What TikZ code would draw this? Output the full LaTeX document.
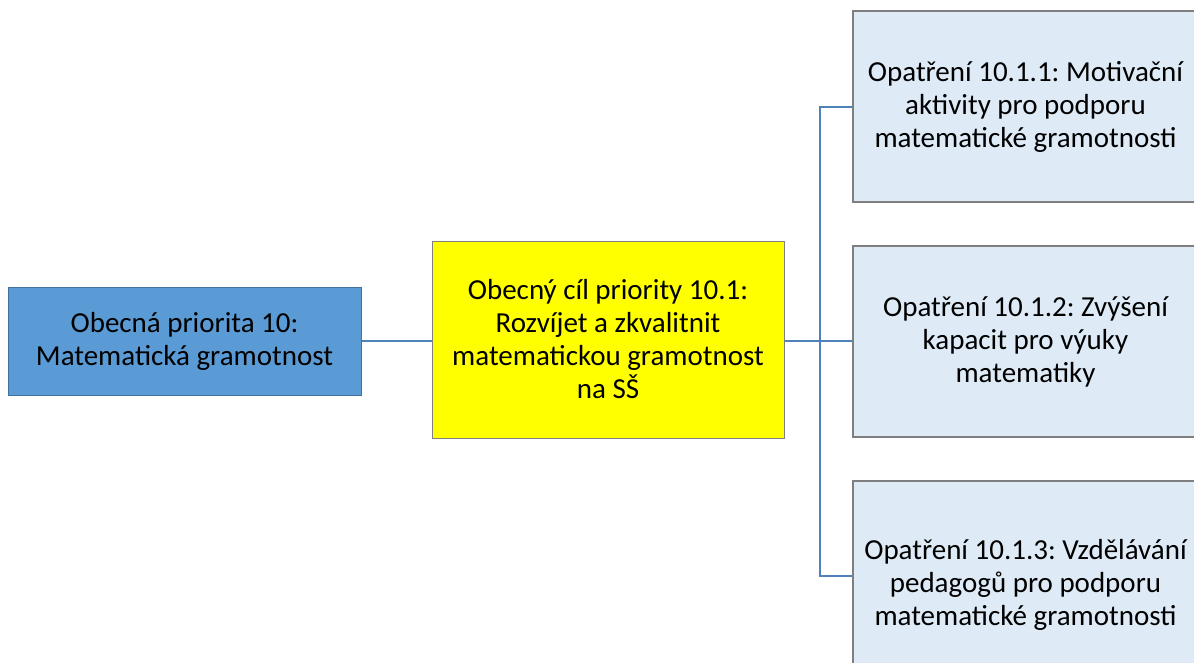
\documentclass[tikz,border=0pt]{standalone}
\usepackage{fontspec}
\setmainfont{Carlito}
\frenchspacing
\definecolor{prioblue}{HTML}{5B9BD5}
\definecolor{prioedge}{HTML}{41719C}
\definecolor{goalyel}{HTML}{FFFF00}
\definecolor{measfill}{HTML}{DEEBF7}
\definecolor{boxedge}{HTML}{7F7F7F}
\definecolor{linkblue}{HTML}{4F81BD}
\tikzset{
  base/.style={rectangle, align=center, inner sep=2pt, font=\fontsize{29}{33}\selectfont, text=black},
  prio/.style={base, fill=prioblue, draw=prioedge, line width=1pt, minimum width=353pt, minimum height=108pt},
  goal/.style={base, fill=goalyel, draw=boxedge, line width=1pt, minimum width=352pt, minimum height=197pt},
  meas/.style={base, fill=measfill, draw=boxedge, line width=1.3pt, minimum width=345pt},
  link/.style={draw=linkblue, line width=2pt}
}
\begin{document}
\begin{tikzpicture}[x=1pt,y=-1pt]
\useasboundingbox (0,0) rectangle (1194,662);
\clip (0,0) rectangle (1194,662);
\fill[white] (0,0) rectangle (1194,662);
\node[prio] (p) at (184.5,341) {Obecná priorita 10:\\Matematická gramotnost};
\node[goal] (g) at (608,339.5) {Obecný cíl priority 10.1:\\Rozvíjet a zkvalitnit\\matematickou gramotnost\\na SŠ};
\node[meas, minimum height=191pt] (m1) at (1025.5,106.5) {Opatření 10.1.1: Motivační\\aktivity pro podporu\\matematické gramotnosti};
\node[meas, minimum height=191pt] (m2) at (1025.5,341.5) {Opatření 10.1.2: Zvýšení\\kapacit pro výuky\\matematiky};
\node[meas, minimum height=208pt] (m3) at (1025.5,585) {Opatření 10.1.3: Vzdělávání\\pedagogů pro podporu\\matematické gramotnosti};
\coordinate (bus) at (820,341);
\coordinate (m3in) at ([yshift=9pt]m3.west);
\draw[link] (p.east |- bus) -- (g.west |- bus);
\draw[link] (g.east |- bus) -- (m2.west |- bus);
\draw[link] (m1.west) -| (bus) |- (m3in);
\end{tikzpicture}
\end{document}
